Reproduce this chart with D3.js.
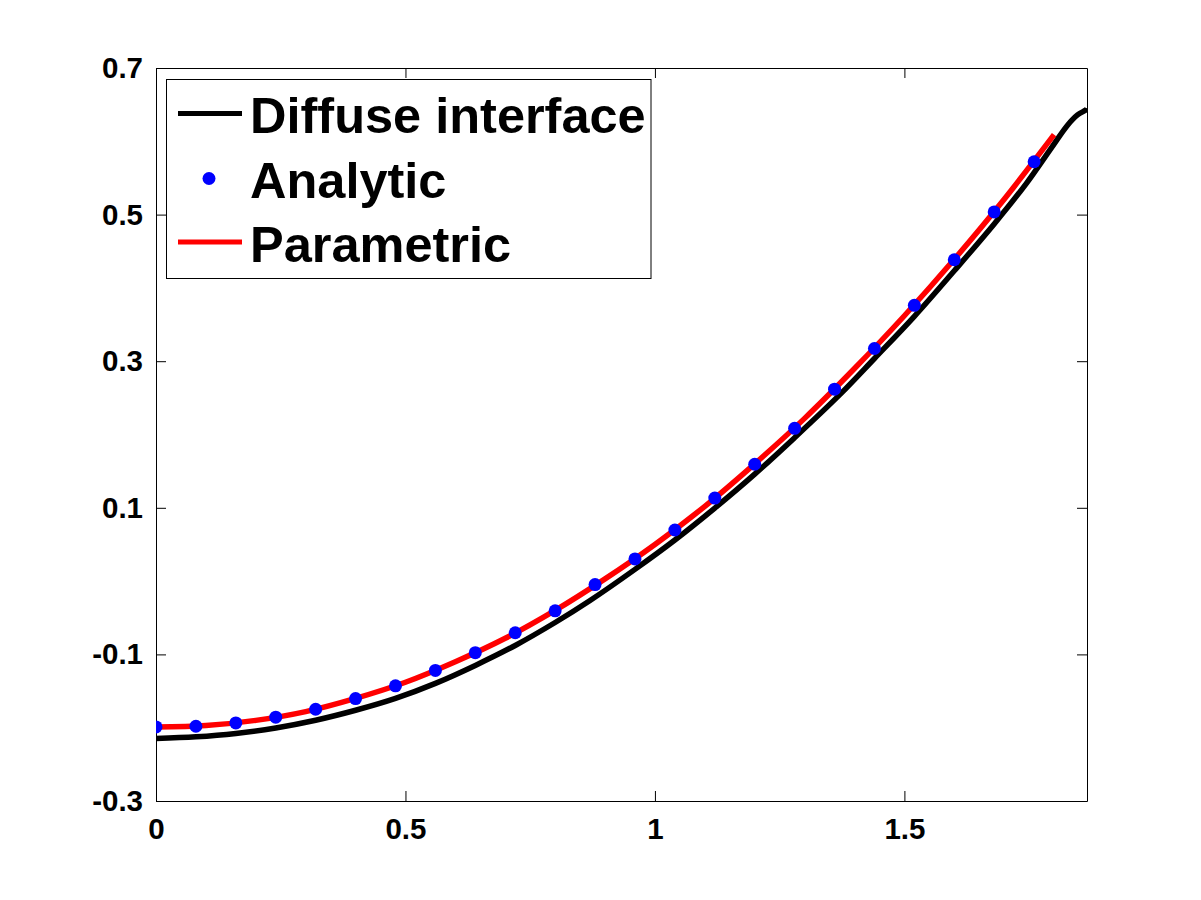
<!DOCTYPE html>
<html><head><meta charset="utf-8">
<script src="https://cdn.jsdelivr.net/npm/d3@7"></script>
<style>
html,body{margin:0;padding:0;background:#fff;}
svg{display:block;}
text{font-family:"Liberation Sans",Arial,Helvetica,sans-serif;font-weight:bold;fill:#000;}
</style>
</head><body>
<svg id="chart" width="1201" height="900"></svg>
<script>
// ---- data ----
const xTicks = [0, 0.5, 1, 1.5];
const yTicks = [-0.3, -0.1, 0.1, 0.3, 0.5, 0.7];
const seriesNames = ["Diffuse interface", "Analytic", "Parametric"];
const seriesColors = ["#000000", "#0000ff", "#ff0000"];

const diffuseX = [0, 0.08, 0.16, 0.24, 0.32, 0.40, 0.48, 0.56, 0.64, 0.72, 0.80, 0.87, 0.96, 1.04, 1.12, 1.20, 1.28, 1.371, 1.44, 1.52, 1.60, 1.68, 1.745, 1.7936, 1.827, 1.847, 1.864, 1.866];
const diffuseY = [-0.2147, -0.2125, -0.2079, -0.2003, -0.1898, -0.1762, -0.160, -0.1395, -0.115, -0.0878, -0.0565, -0.0265, 0.0160, 0.0560, 0.0996, 0.1459, 0.1957, 0.2547, 0.3037, 0.3612, 0.4234, 0.4873, 0.543, 0.590, 0.622, 0.636, 0.643, 0.645];

const analyticX = [0, 0.08, 0.16, 0.24, 0.32, 0.40, 0.48, 0.56, 0.64, 0.72, 0.80, 0.88, 0.96, 1.04, 1.12, 1.20, 1.28, 1.36, 1.44, 1.52, 1.60, 1.68, 1.76];
const analyticY = [-0.199, -0.198, -0.1935, -0.1857, -0.1748, -0.1603, -0.1429, -0.1218, -0.0977, -0.0705, -0.0406, -0.0048, 0.0302, 0.0697, 0.1132, 0.1594, 0.2084, 0.2619, 0.3173, 0.3762, 0.4384, 0.5037, 0.5721];

const paramX = [0, 0.1, 0.2, 0.3, 0.4, 0.5, 0.6, 0.7, 0.8, 0.9, 1.0, 1.1, 1.2, 1.3, 1.4, 1.5, 1.6, 1.7, 1.8];
const paramY = [-0.199, -0.197, -0.190, -0.178, -0.160, -0.138, -0.110, -0.078, -0.040, 0.003, 0.050, 0.102, 0.160, 0.222, 0.290, 0.362, 0.439, 0.521, 0.609];

// ---- layout ----
const L = 156, R = 1087, T = 68, B = 801;
const svg = d3.select("#chart");
const x = d3.scaleLinear().domain([0, 1.866]).range([L, R]);
const y = d3.scaleLinear().domain([-0.3, 0.7]).range([B, T]);

svg.append("rect").attr("width", 1201).attr("height", 900).attr("fill", "#fff");

svg.append("defs").append("clipPath").attr("id", "plotclip")
  .append("rect").attr("x", L).attr("y", T).attr("width", R - L).attr("height", B - T);

// axes
const fmt = d => String(d);
function styleAxis(g, fs) {
  g.selectAll("path,line").attr("stroke", "#000").attr("stroke-width", 1);
  g.selectAll("text").attr("font-size", fs).attr("fill", "#000")
    .attr("font-family", '"Liberation Sans",Arial,Helvetica,sans-serif').attr("font-weight", "bold");
}
svg.append("g").attr("transform", `translate(0,${B})`)
  .call(d3.axisBottom(x).tickValues(xTicks).tickFormat(fmt).tickSizeInner(-10).tickSizeOuter(0).tickPadding(17))
  .call(g => styleAxis(g, 29.5));
svg.append("g").attr("transform", `translate(0,${T})`)
  .call(d3.axisTop(x).tickValues(xTicks).tickFormat("").tickSizeInner(-10).tickSizeOuter(0))
  .call(g => styleAxis(g, 29.5));
svg.append("g").attr("transform", `translate(${L},0)`)
  .call(d3.axisLeft(y).tickValues(yTicks).tickFormat(fmt).tickSizeInner(-10).tickSizeOuter(0).tickPadding(13))
  .call(g => styleAxis(g, 29.5));
svg.append("g").attr("transform", `translate(${R},0)`)
  .call(d3.axisRight(y).tickValues(yTicks).tickFormat("").tickSizeInner(-10).tickSizeOuter(0))
  .call(g => styleAxis(g, 29.5));

// curves
const plot = svg.append("g").attr("clip-path", "url(#plotclip)");
const line = d3.line().x(d => x(d[0])).y(d => y(d[1])).curve(d3.curveCatmullRom);

plot.append("path").datum(diffuseX.map((v, i) => [v, diffuseY[i]]))
  .attr("d", line).attr("fill", "none").attr("stroke", seriesColors[0]).attr("stroke-width", 5.5);
plot.append("path").datum(paramX.map((v, i) => [v, paramY[i]]))
  .attr("d", line).attr("fill", "none").attr("stroke", seriesColors[2]).attr("stroke-width", 5.5);
plot.selectAll("circle.pt").data(analyticX.map((v, i) => [v, analyticY[i]]))
  .enter().append("circle").attr("class", "pt")
  .attr("cx", d => x(d[0])).attr("cy", d => y(d[1])).attr("r", 6.5).attr("fill", seriesColors[1]);

// legend
const lg = svg.append("g");
lg.append("rect").attr("x", 166.5).attr("y", 79.5).attr("width", 484.5).attr("height", 199)
  .attr("fill", "#fff").attr("stroke", "#000").attr("stroke-width", 1);
const rows = [113.5, 178.5, 242];
lg.append("line").attr("x1", 178).attr("x2", 242).attr("y1", rows[0]).attr("y2", rows[0])
  .attr("stroke", seriesColors[0]).attr("stroke-width", 5);
lg.append("circle").attr("cx", 209).attr("cy", rows[1]).attr("r", 6.5).attr("fill", seriesColors[1]);
lg.append("line").attr("x1", 178).attr("x2", 242).attr("y1", rows[2]).attr("y2", rows[2])
  .attr("stroke", seriesColors[2]).attr("stroke-width", 5);
seriesNames.forEach((n, i) => {
  lg.append("text").attr("x", 250).attr("y", rows[i] + 19.5).attr("font-size", 50.5).text(n);
});
</script>
</body></html>
